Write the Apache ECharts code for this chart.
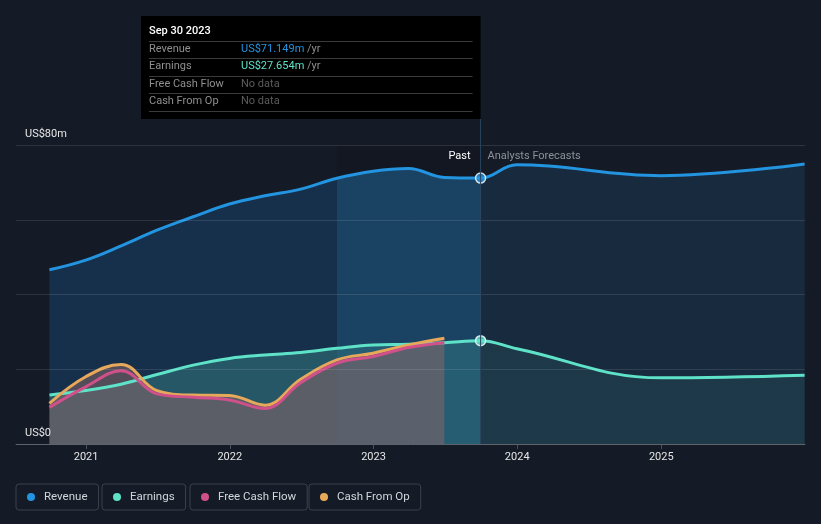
<!DOCTYPE html>
<html><head><meta charset="utf-8">
<script src="https://cdn.jsdelivr.net/npm/echarts@6/dist/echarts.min.js"></script>
<style>html,body{margin:0;padding:0;background:#151b26;}#c{width:821px;height:524px;}</style>
</head><body><div id="c"></div>
<script>
// ---- data ----
const pastDates = ['2020-09-30','2020-12-31','2021-03-31','2021-06-30','2021-09-30','2021-12-31','2022-03-31','2022-06-30','2022-09-30','2022-12-31','2023-03-31','2023-06-30','2023-09-30'];
const revenuePast = [46.6, 49.2, 53.0, 57.2, 60.8, 64.2, 66.4, 68.2, 71.1, 73.0, 73.7, 71.3, 71.149];
const earningsPast = [13.1, 14.3, 16.0, 18.6, 21.1, 22.9, 23.8, 24.5, 25.6, 26.5, 26.7, 27.1, 27.654];
const forecastDates = ['2023-12-31','2024-12-31','2025-12-31'];
const revenueForecast = [74.7, 71.8, 74.9];
const earningsForecast = [25.5, 17.7, 18.4];
const cashDates = ['2020-09-30','2020-12-31','2021-03-31','2021-06-30','2021-09-30','2021-12-31','2022-03-31','2022-06-30','2022-09-30','2022-12-31','2023-03-31','2023-06-30'];
const freeCashFlow = [9.8, 15.3, 19.6, 13.4, 12.5, 11.8, 9.5, 16.4, 21.6, 23.4, 25.8, 27.1];
const cashFromOp = [10.9, 18.0, 21.3, 14.3, 13.1, 13.0, 10.4, 17.3, 22.5, 24.3, 26.5, 28.3];
const yearTicks = ['2021-01-01','2022-01-01','2023-01-01','2024-01-01','2025-01-01'];
const yLabels = {0: 'US$0', 80: 'US$80m'};
const bandStart = '2022-09-30';
const pastEnd = '2023-09-30';
const axisStart = '2020-07-07';
const axisEnd = '2026-01-01';
const seriesNames = ['Revenue','Earnings','Free Cash Flow','Cash From Op'];
const seriesColors = ['#2394df','#5ee2c8','#d0508a','#e8a85a'];
const tooltipTitle = 'Sep 30 2023';
const tooltipValues = ['US$71.149m','US$27.654m', null, null];

// ---- helpers ----
const ts = s => { const [y,m,d] = s.split('-').map(Number); return Date.UTC(y, m-1, d); };
const pairs = (dates, vals) => dates.map((d,i) => [ts(d), vals[i]]);

const revData = pairs(pastDates.concat(forecastDates), revenuePast.concat(revenueForecast));
const earnData = pairs(pastDates.concat(forecastDates), earningsPast.concat(earningsForecast));
const t0 = ts(pastDates[0]), t1 = ts(forecastDates[forecastDates.length-1]);
const offBand = (ts(bandStart)-t0)/(t1-t0), offPast = (ts(pastEnd)-t0)/(t1-t0);
function hGrad(c1, c2, c3){
  return {type:'linear', x:0, y:0, x2:1, y2:0, colorStops:[
    {offset:0,color:c1},{offset:offBand,color:c1},{offset:offBand,color:c2},
    {offset:offPast,color:c2},{offset:offPast,color:c3},{offset:1,color:c3}]};
}
const FONT = 'Roboto';
const SM = 0.4;

const chart = echarts.init(document.getElementById('c'), null, {renderer:'canvas'});
const legendLefts = [16, 102, 190, 309];
chart.setOption({
  backgroundColor: '#151b26',
  animation: false,
  grid: {left: 16, right: 16, top: 145, bottom: 80},
  xAxis: {
    type: 'value', min: ts(axisStart), max: ts(axisEnd),
    axisLine: {show: true, lineStyle: {color: '#4a5059', width: 1}},
    axisTick: {show: true, length: 5, lineStyle: {color: '#4a5059'}, customValues: yearTicks.map(ts)},
    axisLabel: {color: '#e6e6e6', fontSize: 11, fontFamily: FONT, margin: 8,
      customValues: yearTicks.map(ts),
      formatter: v => String(new Date(v).getUTCFullYear())},
    splitLine: {show: false}
  },
  yAxis: {
    type: 'value', min: 0, max: 80, interval: 20, z: 5,
    axisLine: {show: false}, axisTick: {show: false},
    axisLabel: {inside: true, margin: 9, color: '#e6e6e6', fontSize: 11, fontFamily: FONT,
      verticalAlign: 'bottom', padding: [0,0,5,0],
      formatter: v => yLabels[v] !== undefined ? yLabels[v] : ''},
    splitLine: {lineStyle: {color: 'rgba(255,255,255,0.11)', width: 1}}
  },
  legend: seriesNames.map((n,i) => ({
    data: [n], left: legendLefts[i], top: 484, icon: 'circle', itemWidth: 8, itemHeight: 8,
    padding: [7, 11, 7, 11], borderColor: '#3b414c', borderWidth: 1, borderRadius: 3,
    selectedMode: false,
    textStyle: {color: '#d2d6dc', fontSize: 11.5, fontFamily: FONT, padding: [0,0,0,4]}
  })),
  series: [
    {type: 'line', name: 'band', data: revData, z: 1, silent: true, symbol: 'none',
      lineStyle: {opacity: 0}, itemStyle: {color: 'transparent'},
      markArea: {silent: true, itemStyle: {color: 'rgba(0,0,0,0.12)'},
        data: [[{xAxis: ts(bandStart)}, {xAxis: ts(pastEnd)}]]}},
    {type: 'line', name: seriesNames[0], data: revData, smooth: SM, symbol: 'none',
      itemStyle: {color: seriesColors[0]}, lineStyle: {color: seriesColors[0], width: 3},
      areaStyle: {color: hGrad('#16304b', '#1a4262', '#182a3d'), opacity: 1}},
    {type: 'line', name: seriesNames[1], data: earnData, smooth: SM, symbol: 'none',
      itemStyle: {color: seriesColors[1]}, lineStyle: {color: seriesColors[1], width: 3},
      areaStyle: {color: hGrad('rgba(94,226,200,0.22)', 'rgba(94,226,200,0.17)', 'rgba(94,226,200,0.08)'), opacity: 1}},
    {type: 'line', name: seriesNames[3], data: pairs(cashDates, cashFromOp), smooth: SM, symbol: 'none',
      itemStyle: {color: seriesColors[3]}, lineStyle: {color: seriesColors[3], width: 3},
      areaStyle: {color: 'rgba(135,100,102,0.55)', opacity: 1}},
    {type: 'line', name: seriesNames[2], data: pairs(cashDates, freeCashFlow), smooth: SM, symbol: 'none',
      itemStyle: {color: seriesColors[2]}, lineStyle: {color: seriesColors[2], width: 3}},
    {type: 'scatter', name: 'pts', z: 6, symbolSize: 10,
      data: [
        {value: [ts(pastEnd), revenuePast[revenuePast.length-1]], itemStyle: {color: seriesColors[0]}},
        {value: [ts(pastEnd), earningsPast[earningsPast.length-1]], itemStyle: {color: seriesColors[1]}}
      ],
      itemStyle: {borderColor: '#ffffff', borderWidth: 1.5}}
  ]
});

// ---- overlay: past line, labels, tooltip box ----
const px = chart.convertToPixel({xAxisIndex: 0}, ts(pastEnd));
const yTop = chart.convertToPixel({yAxisIndex: 0}, 80);
const yBot = chart.convertToPixel({yAxisIndex: 0}, 0);
const boxL = 141, boxT = 16, boxB = 119;
const g = [];
g.push({type: 'line', shape: {x1: px, y1: boxB, x2: px, y2: yBot}, style: {stroke: '#2a4560', lineWidth: 1}, z: 10});
g.push({type: 'text', x: px - 10, y: yTop + 11, z: 10, style: {text: 'Past', fill: '#ffffff', font: '11px ' + FONT, align: 'right', verticalAlign: 'middle'}});
g.push({type: 'text', x: px + 7, y: yTop + 11, z: 10, style: {text: 'Analysts Forecasts', fill: '#8c9199', font: '11px ' + FONT, align: 'left', verticalAlign: 'middle'}});
g.push({type: 'rect', shape: {x: boxL, y: boxT, width: px - boxL, height: boxB - boxT}, style: {fill: '#000000'}, z: 20});
g.push({type: 'text', x: boxL + 8, y: 31, z: 21, style: {text: tooltipTitle, fill: '#ffffff', font: '500 11px ' + FONT, verticalAlign: 'middle'}});
const rowY = [49.5, 66.5, 84.5, 101.5];
const sepY = [41.5, 58.5, 76.5, 93.5, 111.5];
sepY.forEach(y => g.push({type: 'line', z: 21, shape: {x1: boxL + 8, y1: y, x2: px - 8, y2: y}, style: {stroke: '#3a3a3a', lineWidth: 1}}));
seriesNames.forEach((n, i) => {
  g.push({type: 'text', x: boxL + 8, y: rowY[i], z: 21, style: {text: n, fill: '#8f8f8f', font: '11px ' + FONT, verticalAlign: 'middle'}});
  const v = tooltipValues[i];
  g.push({type: 'text', x: boxL + 100, y: rowY[i], z: 21, style: v ? {
      text: '{v|' + v + '} {u|/yr}', font: '11px ' + FONT, verticalAlign: 'middle',
      rich: {v: {fill: seriesColors[i], font: '11px ' + FONT}, u: {fill: '#8f8f8f', font: '11px ' + FONT}}
    } : {text: 'No data', fill: '#5c5c5c', font: '11px ' + FONT, verticalAlign: 'middle'}});
});
chart.setOption({graphic: g});
</script>
</body></html>
